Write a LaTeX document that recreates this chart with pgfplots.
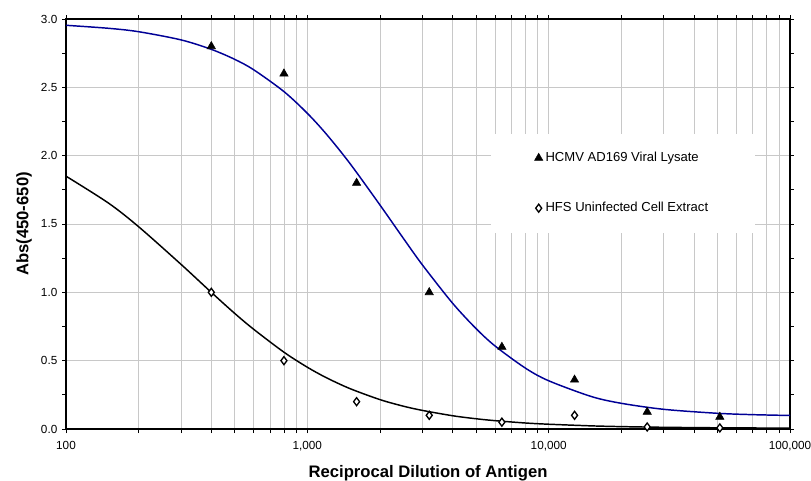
\documentclass[border=0pt]{standalone}
\usepackage{fontspec}
\setmainfont{Liberation Sans}
\usepackage{pgfplots}
\pgfplotsset{compat=1.18}

\definecolor{curveblue}{RGB}{0,0,150}
\definecolor{gridgray}{RGB}{200,200,200}

\begin{document}
\begin{tikzpicture}
% fixed page: 811 x 480 px at 0.75pt per px, axis box at 66..790 / 19..429
\path[use as bounding box] (-49.5pt,-38.25pt) rectangle (558.75pt,321.75pt);
\begin{axis}[
    at={(0,0)}, anchor=south west,
    scale only axis,
    width=543pt, height=307.5pt,
    xmode=log,
    xmin=100, xmax=100000,
    ymin=0, ymax=3,
    xtick={100,1000,10000,100000},
    xticklabels={100,{1,000},{10,000},{100,000}},
    ytick={0,0.5,...,3},
    yticklabel style={/pgf/number format/.cd,fixed,fixed zerofill,precision=1},
    minor y tick num=1,
    /pgf/number format/assume math mode=true,
    ticklabel style={font=\fontsize{8.8}{10}\selectfont},
    xticklabel style={yshift=-3pt},
    xmajorgrids, xminorgrids, ymajorgrids,
    grid style={gridgray, line width=0.6pt},
    minor grid style={gridgray, line width=0.6pt},
    tick align=outside,
    major tick length=3pt, minor tick length=3pt,
    tick style={black, line width=0.6pt},
    axis line style={black, line width=0.8pt},
    xlabel={\bfseries Reciprocal Dilution of Antigen},
    ylabel={\bfseries Abs(450-650)},
    label style={font=\fontsize{12.5}{14}\selectfont},
    xlabel style={yshift=-4pt},
    legend cell align=left,
    legend style={draw=none, fill=white,
        at={(0.586,0.721)}, anchor=north west,
        inner xsep=33pt, inner ysep=12pt,
        row sep=25pt,
        font=\fontsize{9.8}{11}\selectfont},
    legend image code/.code={\draw[#1] plot coordinates {(0,0)};},
]

% fitted curves
\addplot[curveblue, line width=1.1pt, smooth, forget plot] coordinates {
(100,2.954)(150,2.932)(200,2.907)(300,2.847)(400,2.778)(500,2.705)
(600,2.628)(800,2.469)(1000,2.310)(1200,2.157)(1500,1.944)(2000,1.639)
(2500,1.395)(3000,1.200)(4000,0.920)(5000,0.735)(6000,0.607)(8000,0.446)
(10000,0.353)(15000,0.238)(20000,0.188)(30000,0.144)(50000,0.115)
(70000,0.105)(100000,0.099)
};
\addplot[black, line width=1.1pt, smooth, forget plot] coordinates {
(100,1.850)(150,1.653)(200,1.480)(300,1.204)(400,1.000)(500,0.846)
(600,0.729)(800,0.562)(1000,0.452)(1200,0.375)(1500,0.296)(2000,0.215)
(2500,0.167)(3000,0.136)(4000,0.097)(5000,0.075)(6000,0.061)(8000,0.044)
(10000,0.035)(15000,0.023)(20000,0.0175)(30000,0.0125)(50000,0.0089)
(70000,0.0076)(100000,0.0066)
};

% measured points
\addplot[only marks, mark=triangle*, mark size=3.6pt, black] coordinates {
(400,2.80)(800,2.60)(1600,1.80)(3200,1.00)(6400,0.60)(12800,0.36)(25600,0.125)(51200,0.088)
};
\addlegendentry{HCMV AD169 Viral Lysate}
\addplot[only marks, mark=diamond*, mark size=3pt, black, line width=1pt,
    mark options={fill=white}] coordinates {
(400,1.00)(800,0.50)(1600,0.20)(3200,0.10)(6400,0.05)(12800,0.10)(25600,0.015)(51200,0.008)
};
\addlegendentry{HFS Uninfected Cell Extract}

\end{axis}
\end{tikzpicture}
\end{document}
